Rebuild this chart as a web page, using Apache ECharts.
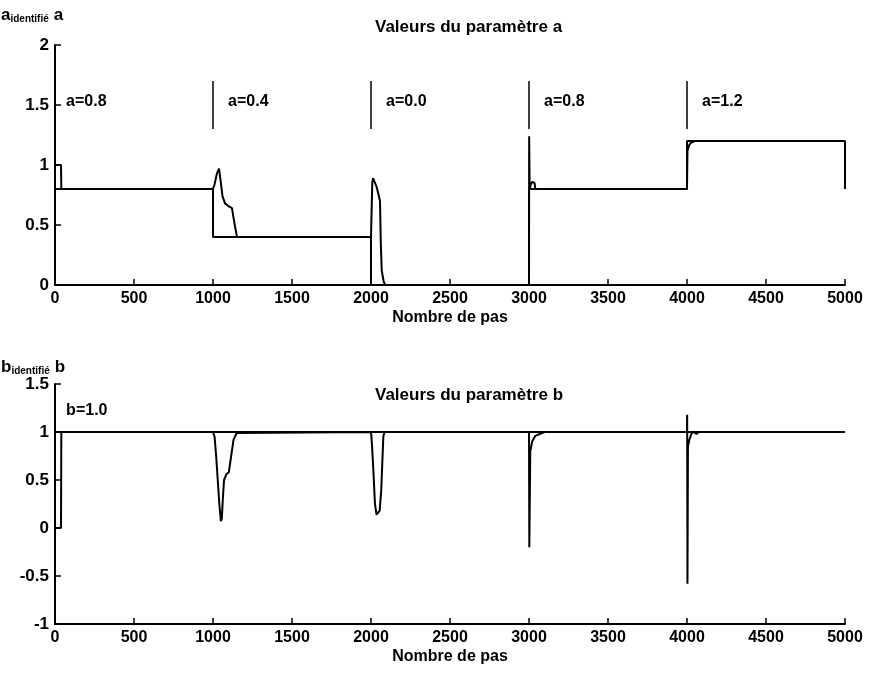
<!DOCTYPE html>
<html><head><meta charset="utf-8">
<script src="https://cdn.jsdelivr.net/npm/echarts@6/dist/echarts.min.js"></script>
<style>html,body{margin:0;padding:0;background:#fff}#c{width:872px;height:680px}</style>
</head><body><div id="c"></div>
<script>
// ---- data ----
const aTrue = [[0,0.8],[1000,0.8],[1000,0.4],[2000,0.4],[2000,0],[3000,0],[3000,0.8],[4000,0.8],[4000,1.2],[5000,1.2],[5000,0.8]];
const aIdent = [[0,1],[38,1],[40,0.8],[1000,0.8],[1010,0.84],[1025,0.93],[1038,0.97],[1050,0.85],[1060,0.74],[1076,0.68],[1095,0.66],[1120,0.64],[1135,0.52],[1152,0.4],
  [2000,0.4],[2008,0.85],[2013,0.89],[2020,0.88],[2035,0.82],[2050,0.74],[2057,0.7],[2062,0.35],[2068,0.12],[2080,0.03],[2090,0],
  [3000,0],[3001,1.24],[3004,0.8],[3012,0.84],[3020,0.86],[3035,0.85],[3040,0.8],
  [4000,0.8],[4003,1.12],[4015,1.17],[4030,1.19],[4050,1.2],[5000,1.2]];
const bTrue = [[0,1],[5000,1]];
const bIdent = [[0,0],[38,0],[40,1],
  [1000,1],[1010,0.95],[1020,0.75],[1030,0.5],[1040,0.25],[1050,0.07],[1056,0.1],[1062,0.3],[1070,0.5],[1085,0.56],[1100,0.58],[1115,0.75],[1130,0.92],[1150,0.99],[1160,1],
  [2000,1],[2005,0.9],[2015,0.6],[2025,0.25],[2035,0.14],[2045,0.13],[2055,0.18],[2065,0.4],[2072,0.7],[2078,0.95],[2085,1],
  [3000,1],[3002,-0.2],[3008,0.8],[3020,0.9],[3040,0.96],[3070,0.98],[3100,1],
  [4000,1],[4001,1.18],[4003,-0.58],[4006,0.85],[4015,0.92],[4030,0.99],[4045,1],[4060,0.98],[4075,1],[5000,1]];
const markerSteps = [1000,2000,3000,4000];
const markerRange = [1.3,1.7];
const aLabels = ['a=0.8','a=0.4','a=0.0','a=0.8','a=1.2'];
const aLabelX = [45,1070,2070,3070,4070];
const aLabelY = 1.53;
const bLabels = ['b=1.0'];
const bLabelX = [45];
const bLabelY = 1.22;

// ---- chart ----
const FF = '"Liberation Sans", Arial, sans-serif';
const txt = {color:'#000', fontFamily:FF, fontWeight:'bold'};
const chart = echarts.init(document.getElementById('c'), null, {renderer:'canvas'});
function xAx(gi){
  return {type:'value', gridIndex:gi, min:0, max:5000, interval:500,
    name:'Nombre de pas', nameLocation:'middle', nameGap:25,
    nameTextStyle:Object.assign({fontSize:16}, txt),
    axisLine:{show:true, onZero:false, lineStyle:{color:'#000', width:2}},
    axisTick:{show:true, inside:true, length:6, lineStyle:{color:'#000', width:1.5}},
    axisLabel:Object.assign({fontSize:16, margin:6, formatter:v=>String(v)}, txt),
    splitLine:{show:false}};
}
function yAx(gi,min,max){
  return {type:'value', gridIndex:gi, min:min, max:max, interval:0.5,
    axisLine:{show:true, onZero:false, lineStyle:{color:'#000', width:2}},
    axisTick:{show:true, inside:true, length:6, lineStyle:{color:'#000', width:1.5}},
    axisLabel:Object.assign({fontSize:17, margin:6, formatter:v=>String(v)}, txt),
    splitLine:{show:false}};
}
const lineStyle = {color:'#000', width:2};
function line(gi,data){
  return {type:'line', xAxisIndex:gi, yAxisIndex:gi, data:data, symbol:'none', lineStyle:lineStyle, animation:false};
}
function labels(gi, names, xs, y){
  return {type:'scatter', xAxisIndex:gi, yAxisIndex:gi, symbolSize:0,
    itemStyle:{color:'#000', opacity:1}, animation:false, silent:true,
    data:names.map((n,i)=>({name:n, value:[xs[i], y]})),
    label:Object.assign({show:true, position:'right', distance:4, fontSize:16, opacity:1, formatter:p=>p.name}, txt)};
}
const markerSeries = {type:'line', xAxisIndex:0, yAxisIndex:0, data:[], symbol:'none', animation:false,
  markLine:{silent:true, symbol:['none','none'], label:{show:false}, lineStyle:{color:'#000', width:1.5, type:'solid'},
    data:markerSteps.map(s=>[{coord:[s, markerRange[0]]},{coord:[s, markerRange[1]]}])}};

const subTitle = (main, top) => ({
  text:'{m|' + main + '}{s|identifié} {m|' + main + '}', left:1, top:top, padding:0,
  textStyle:{rich:{m:Object.assign({fontSize:17, verticalAlign:'bottom', lineHeight:20}, txt),
                   s:Object.assign({fontSize:10, verticalAlign:'bottom', lineHeight:14}, txt)}}
});

chart.setOption({
  animation:false,
  backgroundColor:'#fff',
  title:[
    {text:'Valeurs du paramètre a', left:375, top:19, padding:0, textStyle:Object.assign({fontSize:17}, txt)},
    {text:'Valeurs du paramètre b', left:375, top:387, padding:0, textStyle:Object.assign({fontSize:17}, txt)},
    subTitle('a', 4), subTitle('b', 356)
  ],
  grid:[
    {left:55, right:27, top:45, height:240},
    {left:55, right:27, top:384, height:240}
  ],
  xAxis:[xAx(0), xAx(1)],
  yAxis:[yAx(0,0,2), yAx(1,-1,1.5)],
  series:[
    line(0,aTrue), line(0,aIdent), markerSeries, labels(0,aLabels,aLabelX,aLabelY),
    line(1,bTrue), line(1,bIdent), labels(1,bLabels,bLabelX,bLabelY)
  ]
});
</script></body></html>
